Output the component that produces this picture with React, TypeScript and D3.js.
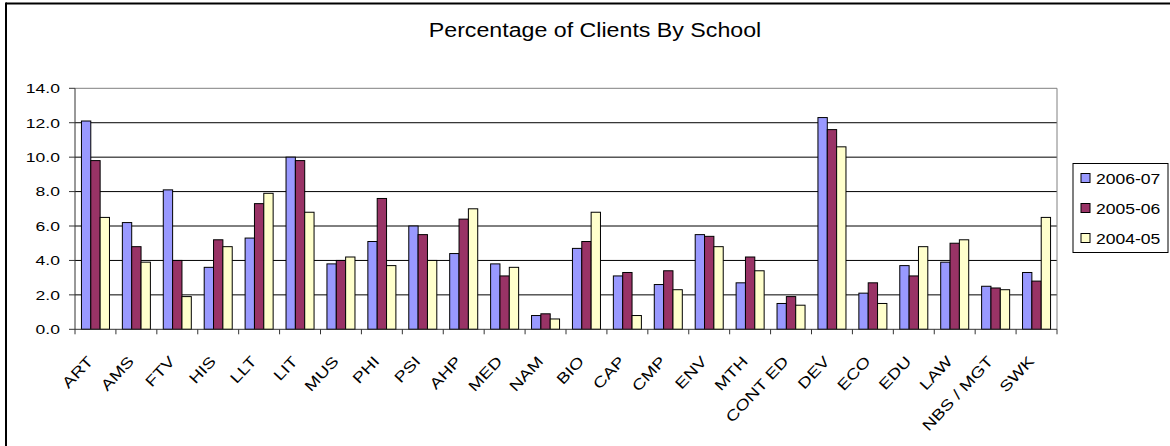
import React from "react";
import * as d3 from "d3";

const categories = ["ART","AMS","FTV","HIS","LLT","LIT","MUS","PHI","PSI","AHP","MED","NAM","BIO","CAP","CMP","ENV","MTH","CONT ED","DEV","ECO","EDU","LAW","NBS / MGT","SWK"];
const series2006 = [12.1,6.2,8.1,3.6,5.3,10.0,3.8,5.1,6.0,4.4,3.8,0.8,4.7,3.1,2.6,5.5,2.7,1.5,12.3,2.1,3.7,3.9,2.5,3.3];
const series2005 = [9.8,4.8,4.0,5.2,7.3,9.8,4.0,7.6,5.5,6.4,3.1,0.9,5.1,3.3,3.4,5.4,4.2,1.9,11.6,2.7,3.1,5.0,2.4,2.8];
const series2004 = [6.5,3.9,1.9,4.8,7.9,6.8,4.2,3.7,4.0,7.0,3.6,0.6,6.8,0.8,2.3,4.8,3.4,1.4,10.6,1.5,4.8,5.2,2.3,6.5];
const seriesNames = ["2006-07","2005-06","2004-05"];
const seriesColors = ["#9999FF","#993366","#FFFFCC"];
const yTicks = [0,2,4,6,8,10,12,14];
const title = "Percentage of Clients By School";

const W = 1170, H = 446;
const plot = { left: 75, right: 1057, top: 88.3, bottom: 329.3 };
const FONT = "'Liberation Sans', Arial, sans-serif";

export default function App() {
  const seriesData = [series2006, series2005, series2004];
  const x = d3.scaleBand<string>().domain(categories).range([plot.left, plot.right]).paddingInner(0).paddingOuter(0);
  const xs = d3.scaleBand<number>().domain([0,1,2]).range([0, x.bandwidth()]).paddingInner(0).paddingOuter(0.69);
  const y = d3.scaleLinear().domain([0,14]).range([plot.bottom, plot.top]);
  const fmt = d3.format(".1f");
  const boundaries = categories.map((c) => x(c) as number).concat([plot.right]);

  return (
    <svg width={W} height={H} style={{ position: "fixed", left: 0, top: 0, display: "block", overflow: "hidden", background: "#fff" }} fontFamily={FONT}>
      <rect x={0} y={0} width={W} height={H} fill="#fff" />
      {/* outer chart border (only top/left visible) */}
      <line x1={6} x2={W} y1={3.5} y2={3.5} stroke="#000" strokeWidth={2} />
      <line x1={6} x2={6} y1={2.5} y2={H} stroke="#000" strokeWidth={2} />
      {/* title */}
      <text transform={`translate(595,37) scale(1.16,1)`} textAnchor="middle" fontSize={20} fill="#000">{title}</text>

      {/* gridlines */}
      {yTicks.filter((t) => t > 0 && t < 14).map((t) => (
        <line key={t} x1={plot.left} x2={plot.right} y1={y(t)} y2={y(t)} stroke="#000" strokeWidth={1} />
      ))}
      {/* plot border top/right */}
      <line x1={plot.left} x2={plot.right} y1={y(14)} y2={y(14)} stroke="#808080" strokeWidth={1} />
      <line x1={plot.right} x2={plot.right} y1={plot.top} y2={plot.bottom} stroke="#808080" strokeWidth={1} />

      {/* bars */}
      {categories.map((c, i) => (
        <g key={c}>
          {seriesData.map((s, k) => (
            <rect key={k}
              x={(x(c) as number) + (xs(k) as number)}
              y={y(s[i])}
              width={xs.bandwidth()}
              height={plot.bottom - y(s[i])}
              fill={seriesColors[k]} stroke="#000" strokeWidth={1} />
          ))}
        </g>
      ))}

      {/* axes */}
      <line x1={plot.left} x2={plot.left} y1={plot.top} y2={plot.bottom} stroke="#333" strokeWidth={1} />
      <line x1={plot.left} x2={plot.right} y1={plot.bottom} y2={plot.bottom} stroke="#333" strokeWidth={1} />
      {yTicks.map((t) => (
        <g key={t}>
          <line x1={plot.left - 6} x2={plot.left} y1={y(t)} y2={y(t)} stroke="#333" strokeWidth={1} />
          <text transform={`translate(60,${y(t) + 4.8}) scale(1.3,1)`} textAnchor="end" fontSize={13.5} fill="#000">{fmt(t)}</text>
        </g>
      ))}
      {boundaries.map((b, i) => (
        <line key={i} x1={b} x2={b} y1={plot.bottom} y2={plot.bottom + 5} stroke="#333" strokeWidth={1} />
      ))}
      {categories.map((c) => {
        const cx = (x(c) as number) + x.bandwidth() / 2;
        return (
          <text key={c} transform={`translate(${cx - 1.5},362) rotate(-47) scale(1.25,1)`} textAnchor="end" fontSize={15} fill="#000">{c}</text>
        );
      })}

      {/* legend */}
      <rect x={1073} y={163.5} width={95} height={89} fill="#fff" stroke="#000" strokeWidth={1} />
      {seriesNames.map((n, k) => (
        <g key={n}>
          <rect x={1081} y={173.5 + k * 30} width={9} height={9} fill={seriesColors[k]} stroke="#000" strokeWidth={1} />
          <text transform={`translate(1096,${184 + k * 30}) scale(1.17,1)`} fontSize={15} fill="#000">{n}</text>
        </g>
      ))}
    </svg>
  );
}
